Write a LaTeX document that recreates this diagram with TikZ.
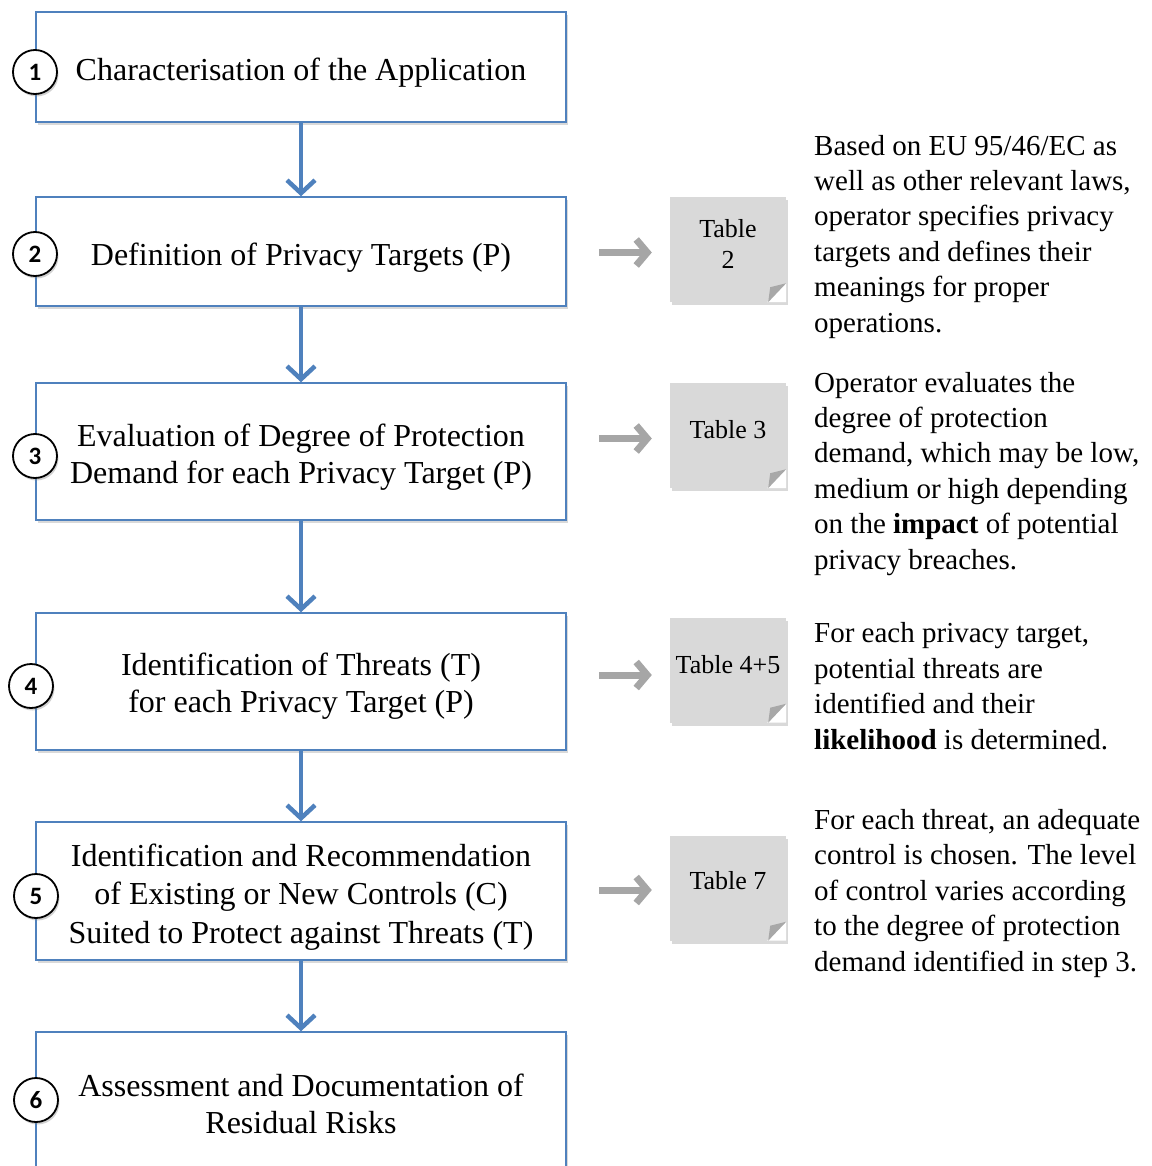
\documentclass[tikz,border=0pt]{standalone}
\usepackage{fontspec}
\setmainfont{Liberation Serif}
\newfontfamily\numfont{Carlito}
\usetikzlibrary{arrows.meta,shadows,calc}
\definecolor{boxblue}{HTML}{4F81BD}
\definecolor{notegray}{HTML}{D9D9D9}
\definecolor{foldgray}{HTML}{A8A8A8}
\definecolor{arrgray}{HTML}{A6A6A6}
\tikzset{
  stepbox/.style={draw=boxblue, line width=1.5pt, fill=white, minimum width=530pt,
    inner sep=0pt,
    drop shadow={shadow xshift=2pt, shadow yshift=-3pt, opacity=0.3}},
  steptext/.style={align=center, inner sep=0pt, font=\fontsize{32}{37}\selectfont},
  numcirc/.style={circle, draw=black, line width=1.8pt, fill=white, minimum size=44pt,
    inner sep=0pt, font=\numfont\bfseries\fontsize{25}{25}\selectfont,
    drop shadow={shadow xshift=1.5pt, shadow yshift=-2.5pt, opacity=0.35}},
  tablenote/.style={fill=notegray, minimum width=116pt, minimum height=105pt, inner sep=0pt,
    drop shadow={shadow xshift=1.5pt, shadow yshift=-3pt, opacity=0.3}},
  notetext/.style={align=center, font=\fontsize{26}{31}\selectfont},
  sidetext/.style={align=left, anchor=base west, inner sep=0pt, font=\fontsize{29}{35.4}\selectfont},
  bluearrow/.style={draw=boxblue, line width=4.5pt, -{Straight Barb[length=13pt, width=28pt]}},
  grayarrow/.style={draw=arrgray, line width=7pt, -{Straight Barb[length=11pt, width=26pt]},
    shorten <=32pt, shorten >=18pt},
  fold/.style={fill=foldgray}
}
\begin{document}
\begin{tikzpicture}[x=1pt, y=-1pt]
\useasboundingbox (0,0) rectangle (1151,1166);
\clip (0,0) rectangle (1151,1166);

% step boxes
\node[stepbox, minimum height=110pt] (b1) at (301,67) {};
\node[stepbox, minimum height=109pt] (b2) at (301,251.5) {};
\node[stepbox, minimum height=137pt] (b3) at (301,451.5) {};
\node[stepbox, minimum height=137pt] (b4) at (301,681.5) {};
\node[stepbox, minimum height=138pt] (b5) at (301,891) {};
\node[stepbox, minimum height=142pt] (b6) at (301,1103) {};

\node[steptext] (b1t) at ($(b1.center)+(0,6)$) {Characterisation of the Application};
\node[steptext] (b2t) at ($(b2.center)+(0,6)$) {Definition of Privacy Targets (P)};
\node[steptext] (b3t) at ($(b3.center)+(0,6)$) {Evaluation of Degree of Protection\\Demand for each Privacy Target (P)};
\node[steptext] (b4t) at ($(b4.center)+(0,5)$) {Identification of Threats (T)\\for each Privacy Target (P)};
\node[steptext, font=\fontsize{32}{38.5}\selectfont] (b5t) at ($(b5.center)+(0,6)$) {Identification and Recommendation\\of Existing or New Controls (C)\\Suited to Protect against Threats (T)};
\node[steptext] (b6t) at ($(b6.center)+(0,1)$) {Assessment and Documentation of\\Residual Risks};

% number circles
\node[numcirc] (c1) at (35,72) {1};
\node[numcirc] (c2) at (35,254) {2};
\node[numcirc] (c3) at (35,456) {3};
\node[numcirc] (c4) at (31,686) {4};
\node[numcirc] (c5) at (36,896) {5};
\node[numcirc] (c6) at (36,1100) {6};

% blue arrows
\draw[bluearrow] (b1.south) -- (b2.north);
\draw[bluearrow] (b2.south) -- (b3.north);
\draw[bluearrow] (b3.south) -- (b4.north);
\draw[bluearrow] (b4.south) -- (b5.north);
\draw[bluearrow] (b5.south) -- (b6.north);

% table notes
\node[tablenote] (t2) at (728,249.5) {};
\node[tablenote] (t3) at (728,435.5) {};
\node[tablenote] (t45) at (728,670) {};
\node[tablenote] (t7) at (728,888) {};
\foreach \t in {t2,t3,t45,t7}{
  \fill[white] (\t.south east) -- ++(0,-19) -- ++(-19,19) -- cycle;
  \fill[fold] ($(\t.south east)+(0,-19)$) -- ($(\t.south east)+(-18,0)$) -- ($(\t.south east)+(-16,-15)$) -- cycle;
}
\node[notetext] at ($(t2.center)+(0,-6)$) {Table\\2};
\node[notetext] at ($(t3.center)+(0,-6)$) {Table 3};
\node[notetext] at ($(t45.center)+(0,-5)$) {Table 4+5};
\node[notetext] at ($(t7.center)+(0,-7)$) {Table 7};

% gray arrows
\draw[grayarrow] ($(b2.east|-t2.west)+(0,3)$) -- ($(t2.west)+(0,3)$);
\draw[grayarrow] ($(b3.east|-t3.west)+(0,3)$) -- ($(t3.west)+(0,3)$);
\draw[grayarrow] ($(b4.east|-t45.west)+(0,5)$) -- ($(t45.west)+(0,5)$);
\draw[grayarrow] ($(b5.east|-t7.west)+(0,2)$) -- ($(t7.west)+(0,2)$);

% side texts (anchored at the baseline of the last line)
\node[sidetext] (s2) at (814,332) {Based on EU 95/46/EC as\\well as other relevant laws,\\operator specifies privacy\\targets and defines their\\meanings for proper\\operations.};
\node[sidetext] (s3) at (814,569) {Operator evaluates the\\degree of protection\\demand, which may be low,\\medium or high depending\\on the \textbf{impact} of potential\\privacy breaches.};
\node[sidetext] (s4) at (814,749) {For each privacy target,\\potential threats are\\identified and their\\\textbf{likelihood} is determined.};
\node[sidetext] (s5) at (814,971) {For each threat, an adequate\\control is chosen. The level\\of control varies according\\to the degree of protection\\demand identified in step 3.};
\end{tikzpicture}
\end{document}
